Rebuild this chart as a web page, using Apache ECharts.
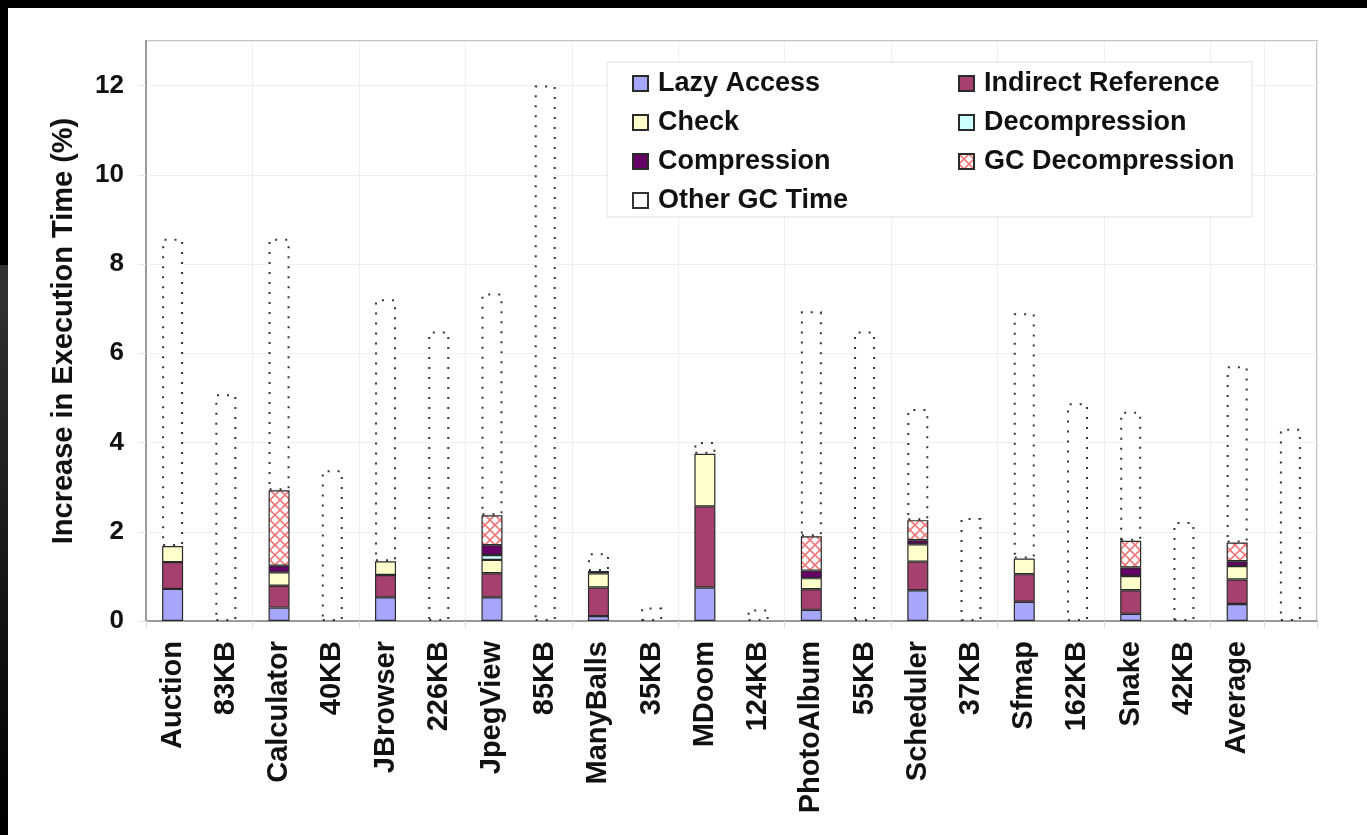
<!DOCTYPE html>
<html>
<head>
<meta charset="utf-8">
<script src="https://cdn.jsdelivr.net/npm/echarts@6/dist/echarts.min.js"></script>
<style>
html,body{margin:0;padding:0;background:#fff;}
#chart{width:1367px;height:835px;}
</style>
</head>
<body>
<div id="chart"></div>
<script>
const categories = ['Auction','83KB','Calculator','40KB','JBrowser','226KB','JpegView','85KB','ManyBalls','35KB','MDoom','124KB','PhotoAlbum','55KB','Scheduler','37KB','Sfmap','162KB','Snake','42KB','Average',''];
const lazyAccess      = [0.72,null,0.30,null,0.53,null,0.53,null,0.11,null,0.75,null,0.25,null,0.69,null,0.43,null,0.16,null,0.38,null];
const indirectRef     = [0.60,null,0.49,null,0.50,null,0.54,null,0.64,null,1.82,null,0.46,null,0.64,null,0.62,null,0.53,null,0.55,null];
const check           = [0.36,null,0.30,null,0.31,null,0.30,null,0.32,null,1.18,null,0.25,null,0.39,null,0.35,null,0.32,null,0.30,null];
const decompression   = [null,null,null,null,null,null,0.11,null,null,null,null,null,null,null,null,null,null,null,null,null,null,null];
const compression     = [null,null,0.15,null,null,null,0.22,null,0.05,null,null,null,0.17,null,0.09,null,null,null,0.19,null,0.11,null];
const gcDecompression = [null,null,1.69,null,null,null,0.67,null,null,null,null,null,0.77,null,0.45,null,null,null,0.60,null,0.42,null];
const otherGC         = [6.89,5.08,5.64,3.38,5.87,6.49,4.97,12.0,0.40,0.30,0.26,0.26,5.04,6.49,2.49,2.31,5.50,4.88,2.89,2.22,3.95,4.31];
const yTicks = [0,2,4,6,8,10,12];

const FONT = "'Liberation Sans', Arial, sans-serif";

// crosshatch pattern for GC Decompression
const pc = document.createElement('canvas');
pc.width = 10; pc.height = 10;
const pctx = pc.getContext('2d');
pctx.fillStyle = '#ffffff'; pctx.fillRect(0,0,10,10);
pctx.strokeStyle = '#f07878'; pctx.lineWidth = 1.6;
pctx.beginPath();
pctx.moveTo(0,0); pctx.lineTo(10,10);
pctx.moveTo(10,0); pctx.lineTo(0,10);
pctx.stroke();

const solidBorder = {borderColor:'#2a2a2a', borderWidth:1.2};
function mk(name, data, itemStyle){
  return {name, type:'bar', stack:'t', data, barWidth:21, itemStyle, emphasis:{disabled:true}};
}

const chart = echarts.init(document.getElementById('chart'));
const legendText = {fontSize:27, fontWeight:'bold', fontFamily:FONT, color:'#111', padding:[0,0,0,5], lineHeight:26};
chart.setOption({
  backgroundColor:'#fff',
  animation:false,
  graphic:[
    {type:'rect', shape:{x:0,y:0,width:1367,height:8}, style:{fill:'#000'}, z:10},
    {type:'rect', shape:{x:0,y:0,width:8,height:265}, style:{fill:'#000'}, z:10},
    {type:'rect', shape:{x:0,y:265,width:8,height:570}, style:{fill:new echarts.graphic.LinearGradient(0,0,0,1,[{offset:0,color:'#333'},{offset:1,color:'#000'}])}, z:10},
    {type:'rect', shape:{x:607,y:62,width:645,height:155}, style:{fill:'#fff', stroke:'#e2e2e2', lineWidth:1}, z:3}
  ],
  grid:{left:146, right:50, top:41, bottom:214, show:true, borderColor:'#c4c4c4', borderWidth:2, backgroundColor:'transparent'},
  legend:[
    {data:['Lazy Access','Check','Compression','Other GC Time'], orient:'vertical', left:632, top:70, padding:0,
     itemWidth:15, itemHeight:15, itemGap:12, icon:'rect', selectedMode:false, textStyle:legendText, z:5},
    {data:['Indirect Reference','Decompression','GC Decompression'], orient:'vertical', left:958, top:70, padding:0,
     itemWidth:15, itemHeight:15, itemGap:12, icon:'rect', selectedMode:false, textStyle:legendText, z:5}
  ],
  xAxis:{
    type:'category', data:categories,
    axisLine:{lineStyle:{color:'#9a9a9a', width:2}},
    axisTick:{show:true, interval:1, length:7, lineStyle:{color:'#dddddd'}},
    splitLine:{show:true, interval:1, lineStyle:{color:'#efefef', width:1}},
    axisLabel:{interval:0, rotate:90, fontSize:29, fontWeight:'bold', fontFamily:FONT, color:'#111', margin:20}
  },
  yAxis:{
    type:'value', min:0, max:13, interval:2,
    name:'Increase in Execution Time (%)', nameLocation:'middle', nameRotate:90, nameGap:68,
    nameTextStyle:{fontSize:29, fontWeight:'bold', fontFamily:FONT, color:'#111'},
    axisLine:{show:true, lineStyle:{color:'#9a9a9a', width:2}},
    axisTick:{show:true, length:8, lineStyle:{color:'#e6e6e6'}},
    splitLine:{show:true, lineStyle:{color:'#efefef', width:1}},
    axisLabel:{fontSize:26, fontWeight:'bold', fontFamily:FONT, color:'#111', margin:22, showMaxLabel:false,
      formatter:v => yTicks.includes(v) ? String(v) : ''}
  },
  series:[
    mk('Lazy Access', lazyAccess, Object.assign({color:'#a6a6fb'}, solidBorder)),
    mk('Indirect Reference', indirectRef, Object.assign({color:'#a6416f'}, solidBorder)),
    mk('Check', check, Object.assign({color:'#ffffcc'}, solidBorder)),
    mk('Decompression', decompression, Object.assign({color:'#ccffff'}, solidBorder)),
    mk('Compression', compression, Object.assign({color:'#660066'}, solidBorder)),
    mk('GC Decompression', gcDecompression, Object.assign({color:{image:pc, repeat:'repeat'}}, solidBorder)),
    mk('Other GC Time', otherGC, {color:'#ffffff', borderColor:'#333', borderWidth:2, borderType:[2,8]})
  ]
});
</script>
</body>
</html>
